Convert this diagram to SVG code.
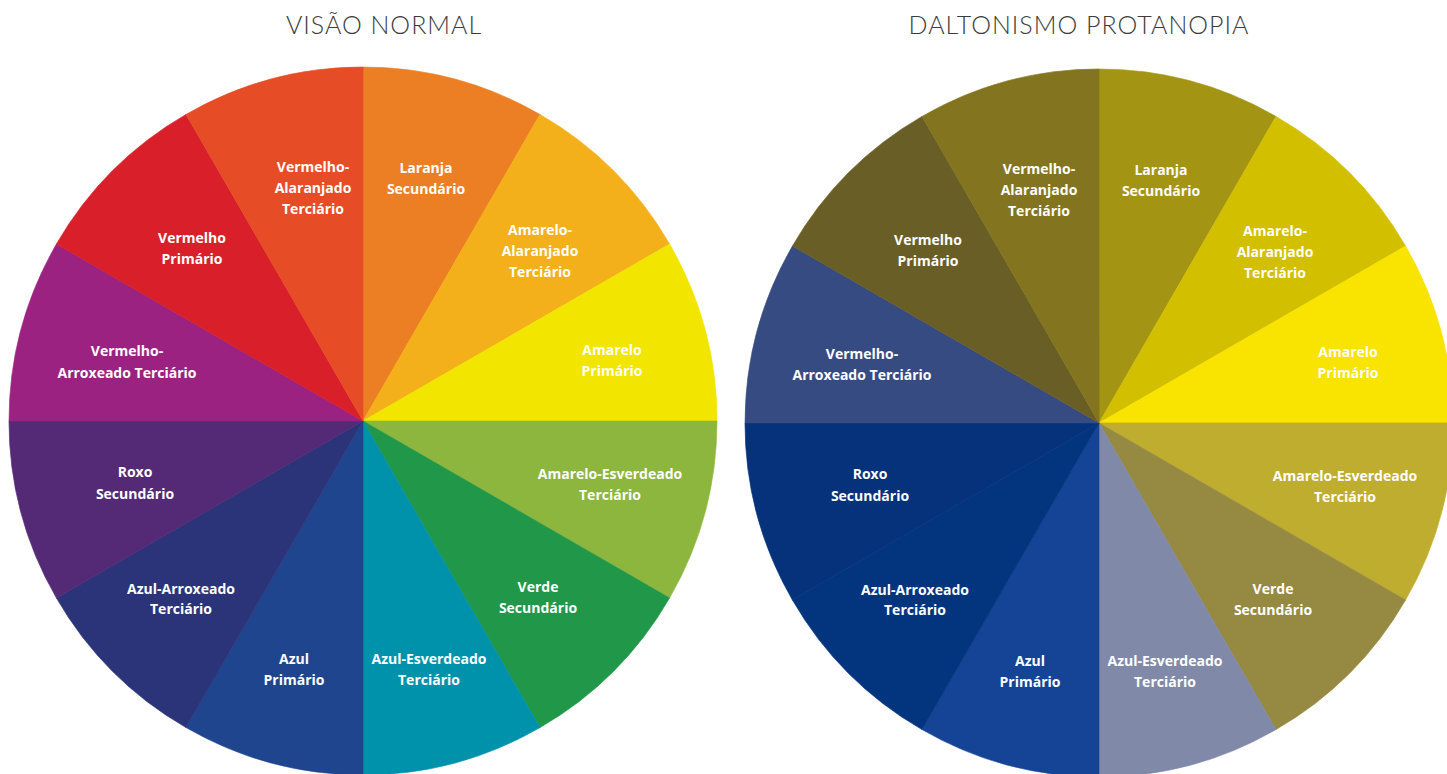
<svg xmlns="http://www.w3.org/2000/svg" xmlns:xlink="http://www.w3.org/1999/xlink" width="1447" height="774" viewBox="0 0 1447 774">
<style>
.title{font-family:Lato,"Open Sans","Liberation Sans",sans-serif;font-weight:300;font-size:25px;fill:#3c3c3c;text-anchor:middle;letter-spacing:1px}
.lbl{font-family:"Open Sans","Liberation Sans",sans-serif;font-weight:700;font-size:14px;fill:#ffffff;text-anchor:middle}
</style>
<defs>
<path id="wedge" d="M0,0 L0,-354 A354,354 0 0,1 177,-306.58 Z" fill="currentColor" stroke="currentColor" stroke-width="0.6" stroke-linejoin="round"/>
</defs>
<rect width="1447" height="774" fill="#ffffff"/>
<text class="title" x="384" y="34">VISÃO NORMAL</text>
<text class="title" x="1079" y="34">DALTONISMO PROTANOPIA</text>

<g id="wheel-normal">
<g id="n-laranja"><use xlink:href="#wedge" transform="translate(363,421) rotate(0)" color="#EC7F23"/><text class="lbl" x="426" y="173">Laranja</text><text class="lbl" x="426" y="194">Secundário</text></g>
<g id="n-amarelo-alaranjado"><use xlink:href="#wedge" transform="translate(363,421) rotate(30)" color="#F4B01A"/><text class="lbl" x="540" y="235">Amarelo-</text><text class="lbl" x="540" y="256">Alaranjado</text><text class="lbl" x="540" y="277">Terciário</text></g>
<g id="n-amarelo"><use xlink:href="#wedge" transform="translate(363,421) rotate(60)" color="#F2E500"/><text class="lbl" x="612" y="355">Amarelo</text><text class="lbl" x="612" y="376">Primário</text></g>
<g id="n-amarelo-esverdeado"><use xlink:href="#wedge" transform="translate(363,421) rotate(90)" color="#8DB63F"/><text class="lbl" x="610" y="479">Amarelo-Esverdeado</text><text class="lbl" x="610" y="500">Terciário</text></g>
<g id="n-verde"><use xlink:href="#wedge" transform="translate(363,421) rotate(120)" color="#21974A"/><text class="lbl" x="538" y="592">Verde</text><text class="lbl" x="538" y="613">Secundário</text></g>
<g id="n-azul-esverdeado"><use xlink:href="#wedge" transform="translate(363,421) rotate(150)" color="#0092AB"/><text class="lbl" x="429" y="664">Azul-Esverdeado</text><text class="lbl" x="429" y="685">Terciário</text></g>
<g id="n-azul"><use xlink:href="#wedge" transform="translate(363,421) rotate(180)" color="#20458F"/><text class="lbl" x="294" y="664">Azul</text><text class="lbl" x="294" y="685">Primário</text></g>
<g id="n-azul-arroxeado"><use xlink:href="#wedge" transform="translate(363,421) rotate(210)" color="#2C3479"/><text class="lbl" x="181" y="594">Azul-Arroxeado</text><text class="lbl" x="181" y="614">Terciário</text></g>
<g id="n-roxo"><use xlink:href="#wedge" transform="translate(363,421) rotate(240)" color="#542A77"/><text class="lbl" x="135" y="477">Roxo</text><text class="lbl" x="135" y="499">Secundário</text></g>
<g id="n-vermelho-arroxeado"><use xlink:href="#wedge" transform="translate(363,421) rotate(270)" color="#9B2280"/><text class="lbl" x="127" y="356">Vermelho-</text><text class="lbl" x="127" y="378">Arroxeado Terciário</text></g>
<g id="n-vermelho"><use xlink:href="#wedge" transform="translate(363,421) rotate(300)" color="#D81F2A"/><text class="lbl" x="192" y="243">Vermelho</text><text class="lbl" x="192" y="264">Primário</text></g>
<g id="n-vermelho-alaranjado"><use xlink:href="#wedge" transform="translate(363,421) rotate(330)" color="#E64D26"/><text class="lbl" x="313" y="172">Vermelho-</text><text class="lbl" x="313" y="193">Alaranjado</text><text class="lbl" x="313" y="214">Terciário</text></g>
</g>

<g id="wheel-protanopia">
<g id="p-laranja"><use xlink:href="#wedge" transform="translate(1099,423) rotate(0)" color="#A39414"/><text class="lbl" x="1161" y="175">Laranja</text><text class="lbl" x="1161" y="196">Secundário</text></g>
<g id="p-amarelo-alaranjado"><use xlink:href="#wedge" transform="translate(1099,423) rotate(30)" color="#D1BF00"/><text class="lbl" x="1275" y="236">Amarelo-</text><text class="lbl" x="1275" y="257">Alaranjado</text><text class="lbl" x="1275" y="278">Terciário</text></g>
<g id="p-amarelo"><use xlink:href="#wedge" transform="translate(1099,423) rotate(60)" color="#F9E300"/><text class="lbl" x="1348" y="357">Amarelo</text><text class="lbl" x="1348" y="378">Primário</text></g>
<g id="p-amarelo-esverdeado"><use xlink:href="#wedge" transform="translate(1099,423) rotate(90)" color="#BFAD30"/><text class="lbl" x="1345" y="481">Amarelo-Esverdeado</text><text class="lbl" x="1345" y="502">Terciário</text></g>
<g id="p-verde"><use xlink:href="#wedge" transform="translate(1099,423) rotate(120)" color="#968A43"/><text class="lbl" x="1273" y="594">Verde</text><text class="lbl" x="1273" y="615">Secundário</text></g>
<g id="p-azul-esverdeado"><use xlink:href="#wedge" transform="translate(1099,423) rotate(150)" color="#8189A9"/><text class="lbl" x="1165" y="666">Azul-Esverdeado</text><text class="lbl" x="1165" y="687">Terciário</text></g>
<g id="p-azul"><use xlink:href="#wedge" transform="translate(1099,423) rotate(180)" color="#154396"/><text class="lbl" x="1030" y="666">Azul</text><text class="lbl" x="1030" y="687">Primário</text></g>
<g id="p-azul-arroxeado"><use xlink:href="#wedge" transform="translate(1099,423) rotate(210)" color="#03357F"/><text class="lbl" x="915" y="595">Azul-Arroxeado</text><text class="lbl" x="915" y="615">Terciário</text></g>
<g id="p-roxo"><use xlink:href="#wedge" transform="translate(1099,423) rotate(240)" color="#05327A"/><text class="lbl" x="870" y="479">Roxo</text><text class="lbl" x="870" y="501">Secundário</text></g>
<g id="p-vermelho-arroxeado"><use xlink:href="#wedge" transform="translate(1099,423) rotate(270)" color="#374B83"/><text class="lbl" x="862" y="359">Vermelho-</text><text class="lbl" x="862" y="380">Arroxeado Terciário</text></g>
<g id="p-vermelho"><use xlink:href="#wedge" transform="translate(1099,423) rotate(300)" color="#6A5E27"/><text class="lbl" x="928" y="245">Vermelho</text><text class="lbl" x="928" y="266">Primário</text></g>
<g id="p-vermelho-alaranjado"><use xlink:href="#wedge" transform="translate(1099,423) rotate(330)" color="#83751F"/><text class="lbl" x="1039" y="174">Vermelho-</text><text class="lbl" x="1039" y="195">Alaranjado</text><text class="lbl" x="1039" y="216">Terciário</text></g>
</g>
</svg>
